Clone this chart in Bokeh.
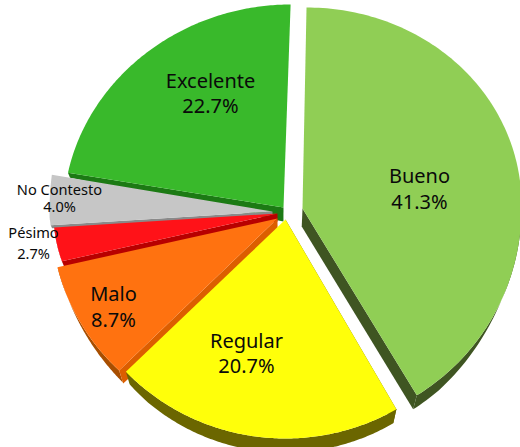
import numpy as np
from bokeh.plotting import figure
from bokeh.models import Range1d
from bokeh.core.properties import value
from bokeh.embed import file_html
from bokeh.resources import INLINE

categories = ["Bueno", "Regular", "Malo", "Pésimo", "No Contesto", "Excelente"]
shares = [41.3, 20.7, 8.7, 2.7, 4.0, 22.7]
top_colors = ["#90CE55", "#FFFF0A", "#FF7210", "#FF1218", "#C6C6C6", "#39B92B"]
outer_colors = ["#3F5522", "#6B6600", "#A84E00", "#A00000", "#808080", "#1C7A14"]
edge_colors = ["#3F5522", "#6B6600", "#DC5E00", "#B80000", "#8A8A8A", "#1C7A14"]
# cx, cy, rx, ry above, ry below, outer wall depth, tip wall depth, top shear, start trim, end trim (deg)
geom = {
    "Bueno": (302, 208, 219, 201, 219, 14, 18, 0.02, 0, 0),
    "Regular": (285, 219, 222, 205, 219, 14, 14, 0, 1.5, 3),
    "Malo": (277, 218, 226, 205, 213, 13, 24, 0, 1.5, 2.5),
    "Pésimo": (277, 213, 224, 205, 176, 6, 8, 0, 0, 1.5),
    "No Contesto": (272, 211, 223, 253, 130, 3, 4, 0, 0, 0),
    "Excelente": (283, 207, 220, 203, 228, 5, 14, 0.035, 1.5, 0),
}
label_pos = {
    "Bueno": (419, 175, 201, 20),
    "Regular": (246, 340, 365, 20),
    "Malo": (113, 293, 319, 20),
    "Pésimo": (33, 231, 252, 14.6),
    "No Contesto": (59, 188, 205, 14.6),
    "Excelente": (210, 80, 105, 20),
}

p = figure(width=520, height=447, output_backend="svg", toolbar_location=None,
           x_range=Range1d(0, 520), y_range=Range1d(447, 0), min_border=0)
p.axis.visible = False
p.grid.visible = False
p.outline_line_color = None
p.background_fill_color = "white"


def ell(name, t):
    cx, cy, rx, rt, rb, *_, shear, _s, _e = geom[name]
    c = np.cos(t)
    y = cy - np.where(c > 0, rt, rb) * c
    x = cx + rx * np.sin(t) + shear * np.maximum(cy - y, 0)
    return x, y


def drop(x, y, d):
    return x - 0.025 * (x - 280) * d / 13, y + d


edges = np.cumsum([0] + shares) / sum(shares) * 2 * np.pi
order = [5, 4, 3, 2, 1, 0]
for i in order:
    n = categories[i]
    cx, cy, rx, rt, rb, d, dtip, shear, ts, te = geom[n]
    t = np.linspace(edges[i] + np.radians(ts), edges[i + 1] + np.radians(te), 140)
    ax, ay = ell(n, t)
    # outer wall, tapering towards the sides of the disc
    depth = d * np.clip(-np.cos(t) * 1.3, 0, 1)
    if depth.max() > 0:
        sx, sy = drop(ax, ay, depth)
        p.patch(np.r_[ax, sx[::-1]], np.r_[ay, sy[::-1]], fill_color=outer_colors[i], line_color=None)
    # radial wall along the lower edge
    j = -1 if n == "Bueno" else 0
    ox, oy = drop(ax[j], ay[j], d)
    qx, qy = drop(cx, cy, dtip)
    p.patch([cx, ax[j], ox, qx], [cy, ay[j], oy, qy], fill_color=edge_colors[i], line_color=None)
    p.patch(np.r_[cx, ax], np.r_[cy, ay], fill_color=top_colors[i], line_color=None)

for n, s in zip(categories, shares):
    x, y1, y2, fs = label_pos[n]
    p.text([x, x], [y1, y2], text=[n, f"{s:.1f}%"], text_align="center", text_baseline="middle",
           text_font=value("Noto Sans"), text_font_size=f"{fs}px", text_color="#0a0a0a")

open("out.html", "w").write(file_html(p, INLINE))
